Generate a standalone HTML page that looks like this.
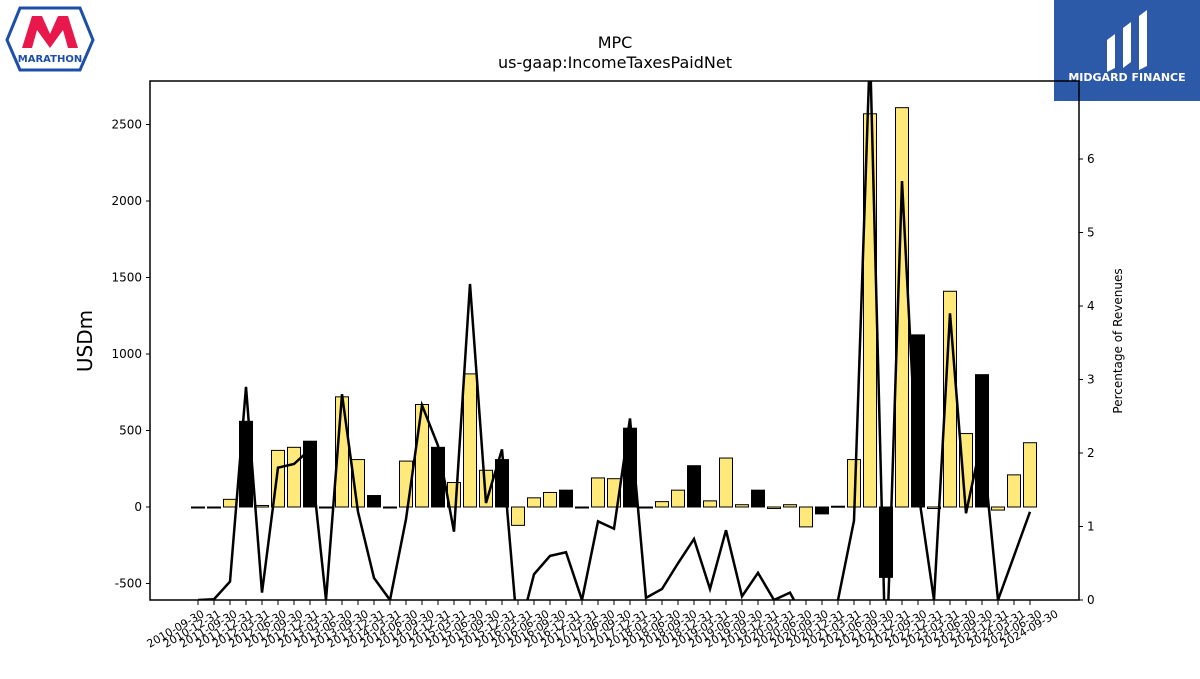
<!DOCTYPE html>
<html><head><meta charset="utf-8"><style>
body{margin:0;background:#fff;font-family:"DejaVu Sans",sans-serif;}
svg text{font-family:"DejaVu Sans","Liberation Sans",sans-serif;}
</style></head><body>
<svg id="c" width="1200" height="675">
<g>
<path d="M20,8 L80,8 L93,40 L80,70 L20,70 L7,40 Z" fill="#fff" stroke="#1e4fa8" stroke-width="3"/>
<path d="M22,48 L32,16 L42,16 L50,34 L58,16 L68,16 L78,48 L68,48 L63,30 L50,48 L37,30 L32,48 Z" fill="#e8174c"/>
<text x="50" y="62" font-size="10" font-weight="bold" fill="#1e4fa8" text-anchor="middle">MARATHON</text>
</g>
<g>
<rect x="1054" y="0" width="146" height="101" fill="#2c5aa8"/>
<path d="M1107,40 L1115,34 L1115,68 L1107,72 Z M1123,28 L1131,22 L1131,62 L1123,68 Z M1139,16 L1147,10 L1147,66 L1139,70 Z" fill="#fff"/>
<text x="1127" y="81" font-size="11" font-weight="bold" fill="#fff" text-anchor="middle">MIDGARD FINANCE</text>
</g>
<text x="615" y="48" font-size="16" text-anchor="middle">MPC</text>
<text x="615" y="68" font-size="16" text-anchor="middle">us-gaap:IncomeTaxesPaidNet</text>
<text transform="translate(92,341) rotate(-90)" font-size="20" text-anchor="middle">USDm</text>
<text transform="translate(1122,341) rotate(-90)" font-size="12" text-anchor="middle">Percentage of Revenues</text>
<g id="plot"></g>
</svg>
<script>
const labels=["2010-09-30","2010-12-31","2011-09-30","2011-12-31","2012-03-31","2012-06-30","2012-09-30","2012-12-31","2013-03-31","2013-06-30","2013-09-30","2013-12-31","2014-03-31","2014-06-30","2014-09-30","2014-12-31","2015-03-31","2015-06-30","2015-09-30","2015-12-31","2016-03-31","2016-06-30","2016-09-30","2016-12-31","2017-03-31","2017-06-30","2017-09-30","2017-12-31","2018-03-31","2018-06-30","2018-09-30","2018-12-31","2019-03-31","2019-06-30","2019-09-30","2019-12-31","2020-03-31","2020-06-30","2020-09-30","2020-12-31","2021-03-31","2021-06-30","2021-09-30","2021-12-31","2022-09-30","2022-12-31","2023-03-31","2023-06-30","2023-09-30","2023-12-31","2024-03-31","2024-06-30","2024-09-30"];
const taxes=[0,0,50,560,10,370,390,430,0,720,310,75,0,300,670,390,160,870,240,310,-120,60,95,110,0,190,185,515,0,35,110,270,40,320,15,110,-10,15,-130,-45,5,310,2570,-460,2610,1125,-10,1410,480,865,-20,210,420];
const annual=[0,0,0,1,0,0,0,1,0,0,0,1,0,0,0,1,0,0,0,1,0,0,0,1,0,0,0,1,0,0,0,1,0,0,0,1,0,0,0,1,0,0,0,1,0,1,0,0,0,1,0,0,0];
const pct=[0,0.01,0.25,2.9,0.1,1.8,1.85,2.05,0,2.8,1.2,0.3,0,1.1,2.65,2.1,0.93,4.3,1.32,2.05,-0.5,0.35,0.6,0.65,0,1.07,0.97,2.47,0.03,0.15,0.5,0.83,0.15,0.95,0.05,0.37,0,0.1,-0.3,-0.3,0,1.08,7.5,-1,5.7,1.5,0,3.9,1.18,2.2,0,0.6,1.2];
const yTicks=[-500,0,500,1000,1500,2000,2500];
const y2Ticks=[0,1,2,3,4,5,6];
const L=150,R=1079,T=81,B=600,NS="http://www.w3.org/2000/svg";
const x=i=>198+i*(1030-198)/(labels.length-1);
const lx=i=>205+i*(1059-205)/(labels.length-1);
const y=v=>507-v*0.153;
const y2=v=>600-v*73.5;
const g=document.getElementById('plot');
function mk(t,a){const e=document.createElementNS(NS,t);for(const k in a)e.setAttribute(k,a[k]);g.appendChild(e);return e;}
const clip=mk('clipPath',{id:'cp'});
const cr=document.createElementNS(NS,'rect');cr.setAttribute('x',L);cr.setAttribute('y',T);cr.setAttribute('width',R-L);cr.setAttribute('height',B-T);clip.appendChild(cr);
taxes.forEach((v,i)=>{
 const b=mk('rect',{x:x(i)-6.5,y:Math.min(y(v),y(0)),width:13,height:Math.max(Math.abs(y(v)-y(0)),1),fill:annual[i]?'#000':'#ffe97a',stroke:'#000','stroke-width':1,'clip-path':'url(#cp)'});
 
 
});
const ln=mk('polyline',{points:pct.map((v,i)=>x(i)+','+y2(v)).join(' '),fill:'none',stroke:'#000','stroke-width':2.5,'clip-path':'url(#cp)'});


const fr=mk('rect',{x:L,y:T,width:R-L,height:B-T,fill:'none',stroke:'#000','stroke-width':1.5});


yTicks.forEach(v=>{
 mk('line',{x1:L-4,x2:L,y1:y(v),y2:y(v),stroke:'#000'});
 const t=mk('text',{x:L-8,y:y(v)+4,'font-size':12,'text-anchor':'end'});t.textContent=v;
 
 
});
y2Ticks.forEach(v=>{
 mk('line',{x1:R,x2:R+4,y1:y2(v),y2:y2(v),stroke:'#000'});
 const t=mk('text',{x:R+8,y:y2(v)+4,'font-size':12});t.textContent=v;
 
 
});
labels.forEach((l,i)=>{
 mk('line',{x1:x(i),x2:x(i),y1:B,y2:B+5,stroke:'#000'});
 const t=mk('text',{transform:`translate(${lx(i)},${B+16}) rotate(-30)`,'font-size':11,'text-anchor':'end'});t.textContent=l;
 
 
});
</script>
</body></html>
